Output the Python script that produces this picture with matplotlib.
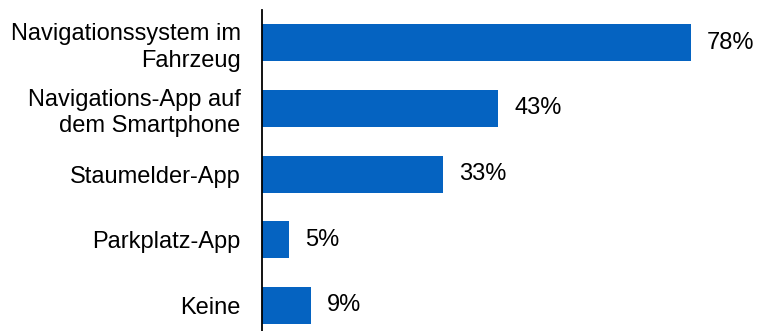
import matplotlib
matplotlib.use("Agg")
import matplotlib.pyplot as plt

# Data
categories = ["Navigationssystem im\nFahrzeug",
              "Navigations-App auf\ndem Smartphone",
              "Staumelder-App",
              "Parkplatz-App",
              "Keine"]
values = [78, 43, 33, 5, 9]

plt.rcParams['font.family'] = ['Liberation Sans', 'DejaVu Sans']

fig = plt.figure(figsize=(7.58, 3.31), dpi=100)
left = 261.5 / 758
xmax = 86.0
width = xmax * 5.507 / 758
ax = fig.add_axes([left, 0.0, width, 1 - 10 / 331])

pos = range(len(values))
ax.barh(pos, values, height=0.565, color="#0563C1")

for p, v in zip(pos, values):
    ax.annotate("%d%%" % v, xy=(v, p), xytext=(11.5, 0), textcoords="offset points",
                va="center", ha="left", fontsize=17, color="black")

ax.set_yticks(list(pos))
ax.set_yticklabels(categories, fontsize=17, linespacing=1.25)
ax.tick_params(axis="y", length=0, pad=15)
ax.set_xticks([])
ax.set_xlim(0, xmax)
ax.set_ylim(4.39, -0.5)

for s in ["top", "right", "bottom"]:
    ax.spines[s].set_visible(False)
ax.spines["left"].set_linewidth(1.3)
ax.spines["left"].set_color("black")

fig.savefig("out.png", dpi=100)
